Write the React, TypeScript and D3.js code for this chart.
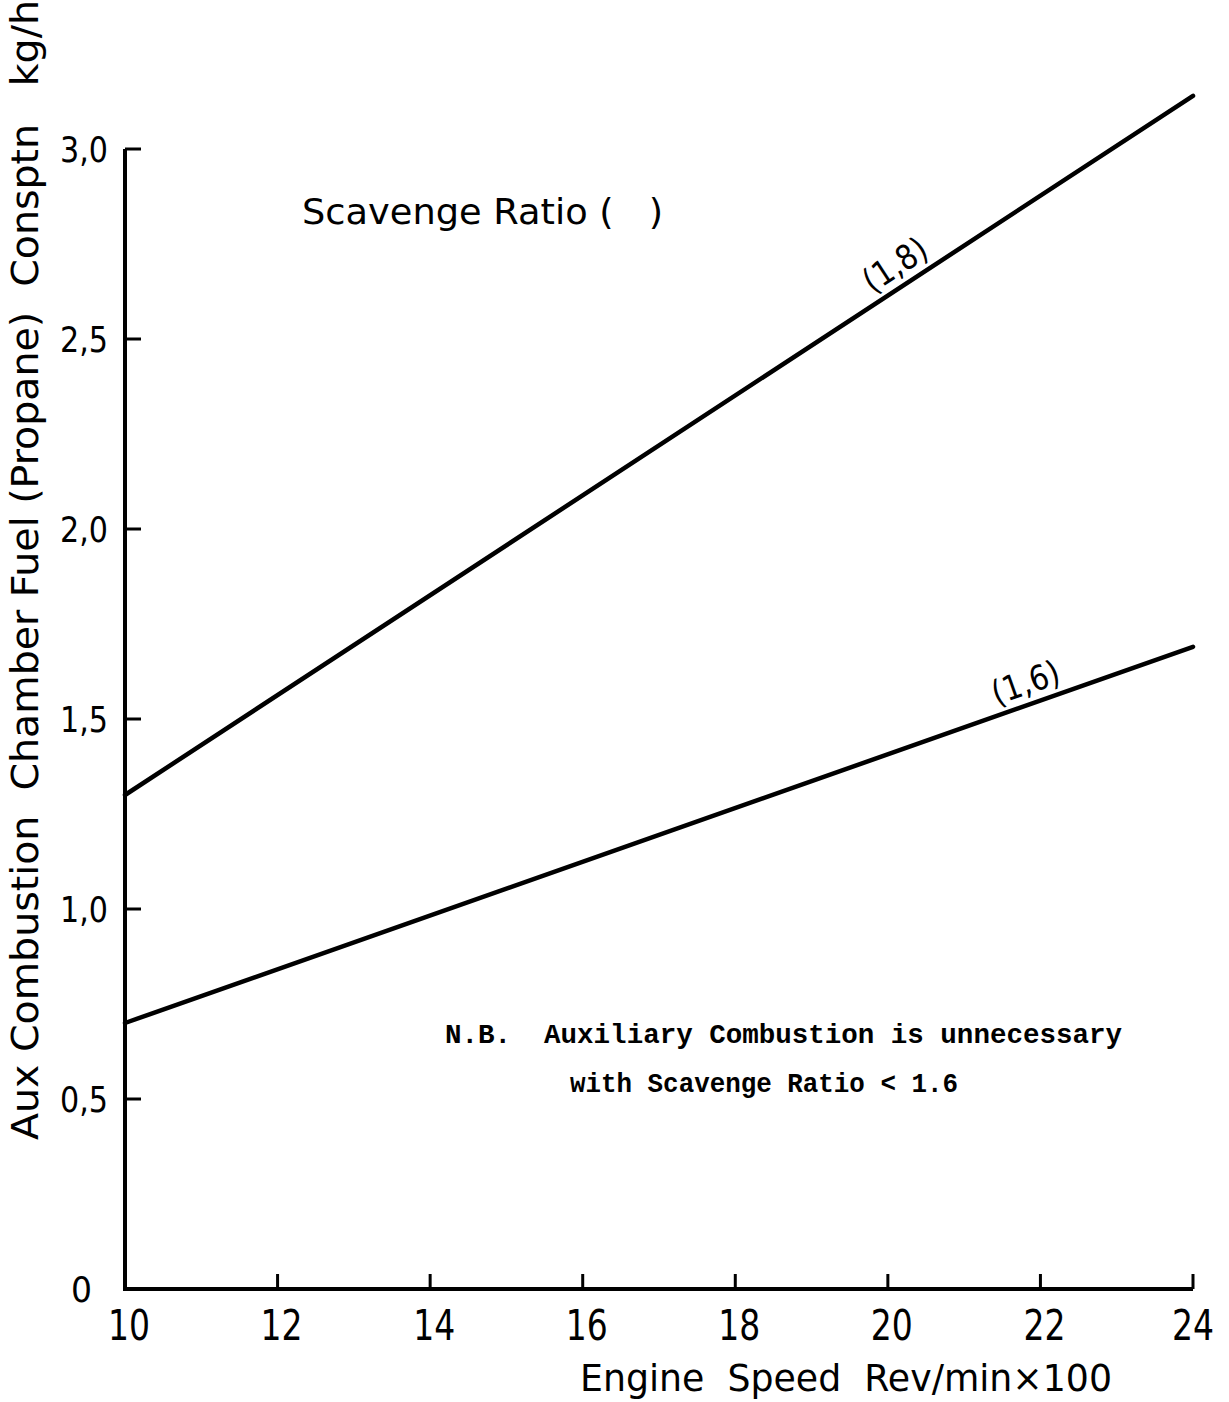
import React from "react";
import * as d3 from "d3";

const speeds = [10, 24];
const ratio18 = [1.3, 3.14];
const ratio16 = [0.7, 1.69];
const xTicks = [10, 12, 14, 16, 18, 20, 22, 24];
const yTicks = [0, 0.5, 1.0, 1.5, 2.0, 2.5, 3.0];
const seriesLabels = ["(1,8)", "(1,6)"];
const labelAt = [20.25, 21.9];

const W = 1229;
const H = 1402;

const x = d3.scaleLinear().domain([10, 24]).range([125, 1193]);
const y = d3.scaleLinear().domain([0, 3]).range([1289, 149]);

const fmtY = (v: number) => (v === 0 ? "0" : d3.format(".1f")(v).replace(".", ","));

const font = "'DejaVu Sans', 'Noto Sans', sans-serif";

export default function App() {
  const series = [ratio18, ratio16];
  const line = d3
    .line<number>()
    .x((_, i) => x(speeds[i]))
    .y((d) => y(d));

  const labels = series.map((s, k) => {
    const xv = labelAt[k];
    const t = (xv - speeds[0]) / (speeds[1] - speeds[0]);
    const yv = s[0] + t * (s[1] - s[0]);
    const px = x(xv);
    const py = y(yv);
    const dx = x(speeds[1]) - x(speeds[0]);
    const dy = y(s[1]) - y(s[0]);
    const ang = (Math.atan2(dy, dx) * 180) / Math.PI;
    return { px, py, ang, text: seriesLabels[k] };
  });

  return (
    <svg
      width={W}
      height={H}
      style={{ position: "absolute", left: 0, top: 0, background: "#fff", display: "block" }}
    >
      <rect width={W} height={H} fill="#fff" />
      {/* axes */}
      <path
        d={`M${x(10)},${y(3)} L${x(10)},${y(0)} L${x(24)},${y(0)}`}
        fill="none"
        stroke="#000"
        strokeWidth={4}
        strokeLinejoin="miter"
      />
      {yTicks
        .filter((v) => v > 0)
        .map((v) => (
          <line key={"yt" + v} x1={x(10)} x2={x(10) + 16} y1={y(v)} y2={y(v)} stroke="#000" strokeWidth={3} />
        ))}
      {xTicks
        .filter((v) => v > 10)
        .map((v) => (
          <line key={"xt" + v} x1={x(v)} x2={x(v)} y1={y(0)} y2={y(0) - 15} stroke="#000" strokeWidth={3} />
        ))}
      {yTicks.map((v) => (
        <text
          key={"yl" + v}
          x={v === 0 ? 92 : 108}
          y={y(v) + 13}
          textAnchor="end"
          fontFamily={font}
          fontSize={36}
          fill="#000"
          textLength={v === 0 ? 21 : 48}
          lengthAdjust="spacingAndGlyphs"
        >
          {fmtY(v)}
        </text>
      ))}
      {xTicks.map((v) => (
        <text
          key={"xl" + v}
          x={x(v) + (v === 24 ? 0 : 4)}
          y={y(0) + 51}
          textAnchor="middle"
          fontFamily={font}
          fontSize={42}
          fill="#000"
          textLength={42}
          lengthAdjust="spacingAndGlyphs"
        >
          {v}
        </text>
      ))}
      {/* series */}
      {series.map((s, k) => (
        <path key={"s" + k} d={line(s) || ""} fill="none" stroke="#000" strokeWidth={4.5} strokeLinecap="round" />
      ))}
      {labels.map((l, k) => (
        <text
          key={"lab" + k}
          transform={`translate(${l.px},${l.py}) rotate(${l.ang}) translate(0,-10)`}
          textAnchor="middle"
          fontFamily={font}
          fontSize={34}
          fill="#000"
          textLength={70}
          lengthAdjust="spacingAndGlyphs"
        >
          {l.text}
        </text>
      ))}
      {/* titles */}
      <text
        x={302}
        y={224}
        fontFamily={font}
        fontSize={36}
        fill="#000"
        textLength={361}
        lengthAdjust="spacingAndGlyphs"
        style={{ whiteSpace: "pre" }}
      >
        {"Scavenge Ratio (   )"}
      </text>
      <text
        x={580}
        y={1391}
        fontFamily={font}
        fontSize={38}
        fill="#000"
        textLength={532}
        lengthAdjust="spacingAndGlyphs"
        style={{ whiteSpace: "pre" }}
      >
        {"Engine  Speed  Rev/min×100"}
      </text>
      <text
        transform="translate(38,1140) rotate(-90)"
        fontFamily={font}
        fontSize={37}
        fill="#000"
        textLength={1140}
        lengthAdjust="spacingAndGlyphs"
        style={{ whiteSpace: "pre" }}
      >
        {"Aux Combustion  Chamber Fuel (Propane)  Consptn   kg/h"}
      </text>
      {/* note */}
      <text
        x={445}
        y={1043}
        fontFamily="'Liberation Mono', 'DejaVu Sans Mono', monospace"
        fontWeight="bold"
        fontSize={27}
        fill="#000"
        textLength={677}
        lengthAdjust="spacingAndGlyphs"
        style={{ whiteSpace: "pre" }}
      >
        {"N.B.  Auxiliary Combustion is unnecessary"}
      </text>
      <text
        x={570}
        y={1092}
        fontFamily="'Liberation Mono', 'DejaVu Sans Mono', monospace"
        fontWeight="bold"
        fontSize={27}
        fill="#000"
        textLength={388}
        lengthAdjust="spacingAndGlyphs"
        style={{ whiteSpace: "pre" }}
      >
        {"with Scavenge Ratio < 1.6"}
      </text>
    </svg>
  );
}
